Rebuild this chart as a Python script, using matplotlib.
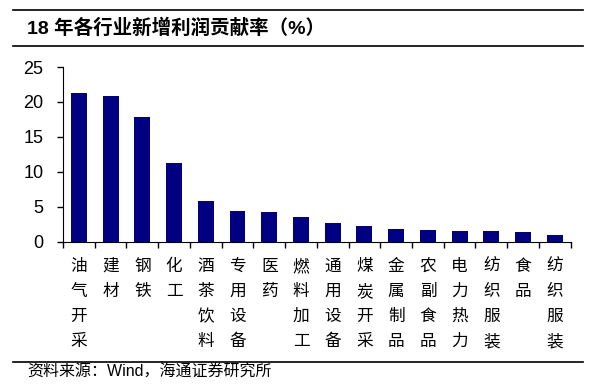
import matplotlib.pyplot as plt
import matplotlib.transforms as mtransforms
from matplotlib.lines import Line2D

plt.rcParams['font.family'] = ['Liberation Sans', 'Noto Sans CJK SC', 'DejaVu Sans']

industries = ['油气开采', '建材', '钢铁', '化工', '酒茶饮料', '专用设备', '医药', '燃料加工',
              '通用设备', '煤炭开采', '金属制品', '农副食品', '电力热力', '纺织服装', '食品', '纺织服装']
contrib = [21.35, 20.8, 17.8, 11.3, 5.8, 4.45, 4.3, 3.55,
           2.7, 2.25, 1.8, 1.72, 1.5, 1.5, 1.35, 0.95]
yticks = [0, 5, 10, 15, 20, 25]

fig = plt.figure(figsize=(5.91, 3.92), dpi=100)
ax = fig.add_axes([0.1066, 0.3834, 0.859, 0.4456])

x = list(range(len(industries)))
ax.bar(x, contrib, width=0.5, color='#000080')

ax.set_xlim(-0.5, len(industries) - 0.5)
ax.set_ylim(0, 25)
ax.set_yticks(yticks)
ax.set_yticklabels([str(v) for v in yticks], fontsize=13)
ax.set_xticks([i - 0.5 for i in range(len(industries) + 1)])
ax.set_xticklabels([])
ax.tick_params(axis='both', direction='out', length=4, width=1, color='black')
ax.tick_params(axis='y', pad=10)
for s in ['top', 'right']:
    ax.spines[s].set_visible(False)

# vertical category labels
trans = mtransforms.blended_transform_factory(ax.transData, fig.transFigure)
for i, name in enumerate(industries):
    ax.text(i, 1 - 258 / 392, '\n'.join(name), transform=trans, ha='center', va='top',
            fontsize=12, family=['Noto Sans CJK SC'], linespacing=1.62)

# title and frame lines
fig.text(27 / 591, 1 - 28 / 392, '18 年各行业新增利润贡献率（%）', fontsize=14,
         fontweight='bold', va='center', ha='left')
for yy in [10, 46, 361.7]:
    fig.add_artist(Line2D([13 / 591, 583 / 591], [1 - yy / 392, 1 - yy / 392],
                          color='black', lw=1.2))
fig.text(27 / 591, 1 - 372 / 392, '资料来源：Wind，海通证券研究所', fontsize=11.5,
         va='center', ha='left')

fig.savefig('out.png', dpi=100)
